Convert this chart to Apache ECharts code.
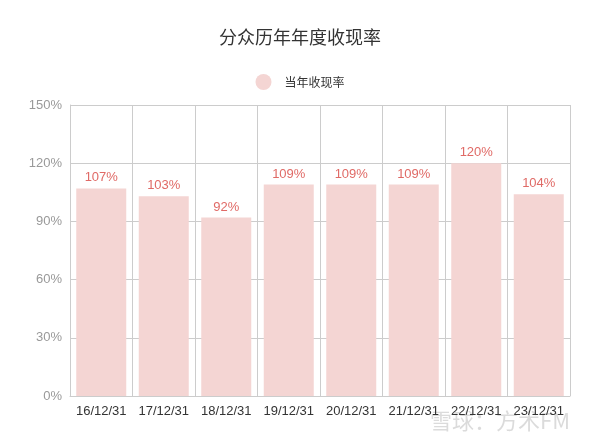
<!DOCTYPE html>
<html><head><meta charset="utf-8">
<script src="https://cdn.jsdelivr.net/npm/echarts@6/dist/echarts.min.js"></script>
<style>html,body{margin:0;padding:0;background:#fff}#c{width:600px;height:440px}</style>
</head><body><div id="c"></div>
<script>
const categories = ['16/12/31','17/12/31','18/12/31','19/12/31','20/12/31','21/12/31','22/12/31','23/12/31'];
const cashRatio = [107,103,92,109,109,109,120,104];
const yTicks = [0,30,60,90,120,150];
const chart = echarts.init(document.getElementById('c'));
chart.setOption({
  animation:false,
  title:{text:'分众历年年度收现率',left:'center',top:23,textStyle:{fontSize:18,fontWeight:'normal',color:'#333',fontFamily:'Noto Sans CJK SC'}},
  legend:{top:69,left:'center',icon:'circle',itemWidth:16,itemHeight:16,itemGap:10,textStyle:{fontSize:12,color:'#333',padding:[0,0,0,8],fontFamily:'Noto Sans CJK SC'},data:['当年收现率']},
  grid:{left:70,right:30,top:105,bottom:44},
  xAxis:{type:'category',data:categories,
    axisLine:{lineStyle:{color:'#ccc'}},axisTick:{show:false},
    axisLabel:{interval:0,color:'#333',fontSize:13,margin:9,fontFamily:'Liberation Sans'},
    splitLine:{show:true,interval:0,lineStyle:{color:'#ccc'}}},
  yAxis:{type:'value',min:yTicks[0],max:yTicks[yTicks.length-1],interval:30,
    axisLine:{show:true,lineStyle:{color:'#ccc'}},axisTick:{show:false},
    axisLabel:{color:'#999',fontSize:13,margin:8,formatter:'{value}%',fontFamily:'Liberation Sans'},
    splitLine:{lineStyle:{color:'#ccc'}}},
  graphic:[{type:'text',right:30,bottom:8,style:{text:'雪球：方术FM',fill:'rgba(190,190,190,0.55)',font:'22px "Noto Sans CJK SC"'}}],
  series:[{name:'当年收现率',type:'bar',data:cashRatio,barCategoryGap:'20%',
    itemStyle:{color:'#F4D5D3'},
    label:{show:true,position:'top',distance:4,color:'#E06A66',fontSize:13,formatter:'{c}%',fontFamily:'Liberation Sans'}}]
});
</script></body></html>
